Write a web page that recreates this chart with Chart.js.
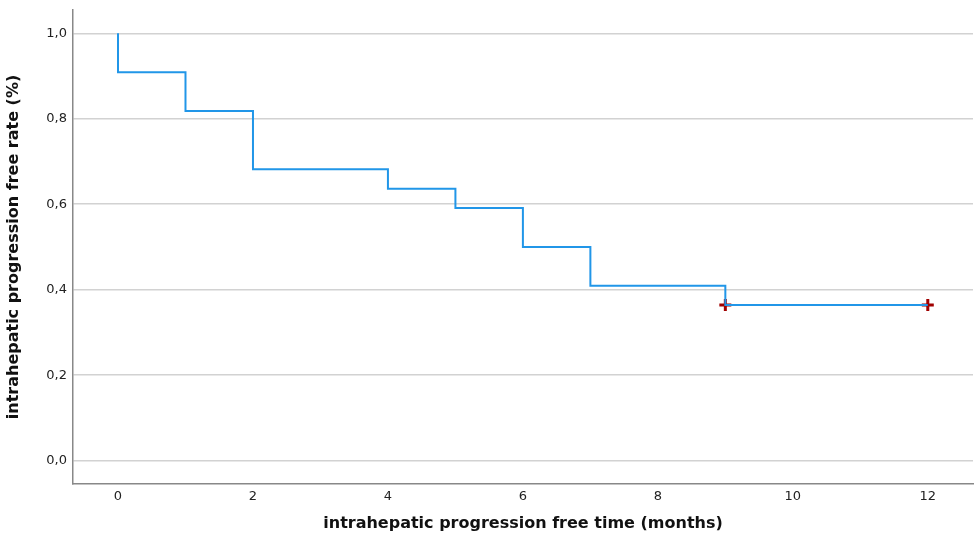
<!DOCTYPE html>
<html>
<head>
<meta charset="utf-8">
<script src="https://cdn.jsdelivr.net/npm/chart.js@4/dist/chart.umd.min.js"></script>
<style>
  html, body { margin: 0; padding: 0; background: #fff; }
  canvas { display: block; }
</style>
</head>
<body>
<canvas id="km" width="974" height="537"></canvas>
<script>
// Kaplan-Meier step points (time in months, survival fraction)
const stepTimes = [0, 0, 1, 2, 4, 5, 6, 7, 9, 12];
const stepRates = [1.0, 0.909, 0.818, 0.682, 0.636, 0.591, 0.5, 0.409, 0.364, 0.364];
// censored observations
const censorTimes = [9, 12];
const censorRates = [0.364, 0.364];
const xTicks = [0, 2, 4, 6, 8, 10, 12];
const yTicks = [0, 0.2, 0.4, 0.6, 0.8, 1.0];

const tickFont = { family: "DejaVu Sans", size: 13 };
const titleFont = { family: "DejaVu Sans", size: 16, weight: "bold" };

new Chart(document.getElementById("km").getContext("2d"), {
  type: "line",
  data: {
    datasets: [
      {
        label: "survival",
        data: stepTimes.map((t, i) => ({ x: t, y: stepRates[i] })),
        stepped: "before",
        borderColor: "#2196e8",
        borderWidth: 2,
        pointRadius: 0,
        fill: false,
      },
      {
        label: "censored",
        type: "scatter",
        data: censorTimes.map((t, i) => ({ x: t, y: censorRates[i] })),
        pointStyle: "cross",
        pointRadius: 6,
        borderColor: "#a00000",
        borderWidth: 3,
      },
    ],
  },
  options: {
    responsive: false,
    animation: false,
    layout: { autoPadding: false, padding: { top: 10, right: 1, left: 0, bottom: 0 } },
    plugins: { legend: { display: false }, tooltip: { enabled: false } },
    scales: {
      x: {
        type: "linear",
        min: -0.667,
        max: 12.67,
        afterBuildTicks: (s) => { s.ticks = xTicks.map((v) => ({ value: v })); },
        afterFit: (s) => { s.height = 53; s.paddingLeft = 0; s.paddingRight = 0; },
        grid: { display: false, drawTicks: false },
        border: { color: "#888", width: 1.5 },
        ticks: { font: tickFont, color: "#222", padding: 5, maxRotation: 0 },
        title: {
          display: true,
          text: "intrahepatic progression free time (months)",
          font: titleFont,
          color: "#111",
          padding: { top: 10 },
        },
      },
      y: {
        min: -0.0546,
        max: 1.0545,
        afterBuildTicks: (s) => { s.ticks = yTicks.map((v) => ({ value: v })); },
        afterFit: (s) => { s.width = 73; s.paddingTop = 0; s.paddingBottom = 0; },
        grid: { color: "#d2d2d2", lineWidth: 1.5, drawTicks: false },
        border: { color: "#888", width: 1.5 },
        ticks: {
          font: tickFont,
          color: "#222",
          padding: 6,
          callback: (v) => v.toFixed(1).replace(".", ","),
        },
        title: {
          display: true,
          text: "intrahepatic progression free rate (%)",
          font: titleFont,
          color: "#111",
          padding: { bottom: 4 },
        },
      },
    },
  },
});
</script>
</body>
</html>
